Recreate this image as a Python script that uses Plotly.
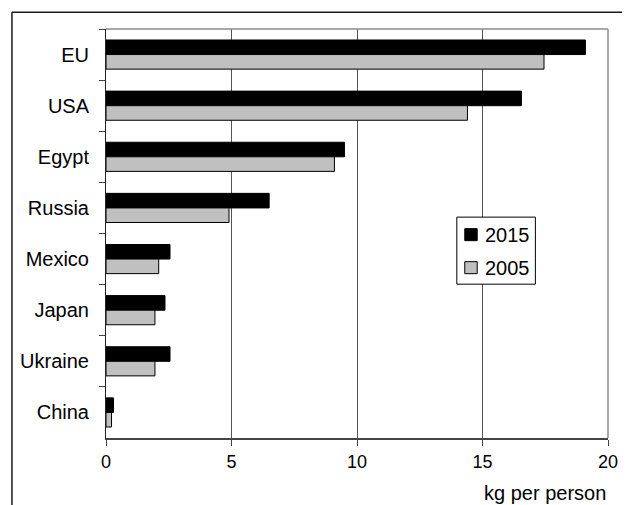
import plotly.graph_objects as go

categories = ["EU", "USA", "Egypt", "Russia", "Mexico", "Japan", "Ukraine", "China"]
values_2015 = [19.1, 16.55, 9.5, 6.5, 2.55, 2.35, 2.55, 0.3]
values_2005 = [17.45, 14.4, 9.1, 4.9, 2.1, 1.95, 1.95, 0.22]
series_names = ["2015", "2005"]
series_colors = ["#000000", "#c0c0c0"]
x_ticks = [0, 5, 10, 15, 20]
x_title = "kg per person"

FONT = "Liberation Sans, Arial, sans-serif"
FS = 20

# the page body adds an 8px margin; size the figure to fit the window
OFF = 8
W, H = 630 - OFF, 505 - OFF

# plot area in screen pixels
SX0, SX1, SY0, SY1 = 103.3, 608.0, 29.0, 437.7
L, R, T, B = SX0 - OFF, W - (SX1 - OFF), SY0 - OFF, H - (SY1 - OFF)
pw = W - L - R
ph = H - T - B

def px_x(sx):
    return (sx - OFF - L) / pw

def px_y(sy):
    return (H - B - (sy - OFF)) / ph

fig = go.Figure()
for name, vals, col in zip(series_names, [values_2015, values_2005], series_colors):
    fig.add_trace(go.Bar(
        y=categories, x=vals, name=name, orientation="h",
        marker=dict(color=col, line=dict(color="#000000", width=1)),
        showlegend=False,
    ))

shapes = [
    # plot area border (top/right grey)
    dict(type="line", xref="paper", yref="paper", x0=0, x1=1, y0=1, y1=1,
         line=dict(color="#8c8c8c", width=1.5)),
    dict(type="line", xref="paper", yref="paper", x0=1, x1=1, y0=0, y1=1,
         line=dict(color="#8c8c8c", width=1.5)),
    # outer chart frame (left and top visible)
    dict(type="line", xref="paper", yref="paper", x0=px_x(8.75), x1=px_x(8.75),
         y0=px_y(520), y1=px_y(12.3), line=dict(color="#1a1a1a", width=1.5)),
    dict(type="line", xref="paper", yref="paper", x0=px_x(8.75), x1=px_x(640),
         y0=px_y(12.3), y1=px_y(12.3), line=dict(color="#1a1a1a", width=1.5)),
    # legend box
    dict(type="rect", xref="paper", yref="paper",
         x0=px_x(456), x1=px_x(535), y0=px_y(284), y1=px_y(217),
         line=dict(color="#000000", width=1), fillcolor="white", layer="above"),
]

annotations = [dict(
    text=x_title, xref="paper", yref="paper", x=px_x(608), y=px_y(492.5),
    xanchor="right", yanchor="middle", showarrow=False,
    font=dict(family=FONT, size=FS),
)]

# legend entries
legend_rows = [234.5, 267.5]
for name, col, yc in zip(series_names, series_colors, legend_rows):
    shapes.append(dict(
        type="rect", xref="paper", yref="paper",
        x0=px_x(464), x1=px_x(476.5), y0=px_y(yc + 6), y1=px_y(yc - 6),
        line=dict(color="#000000", width=1), fillcolor=col, layer="above",
    ))
    annotations.append(dict(
        text=name, xref="paper", yref="paper", x=px_x(482), y=px_y(yc),
        xanchor="left", yanchor="middle", showarrow=False,
        font=dict(family=FONT, size=FS),
    ))

fig.update_layout(
    width=W, height=H,
    margin=dict(l=L, r=R, t=T, b=B, pad=0),
    paper_bgcolor="white", plot_bgcolor="white",
    font=dict(family=FONT, size=FS, color="#000000"),
    barmode="group", bargap=0.43, bargroupgap=0,
    showlegend=False,
    shapes=shapes,
    annotations=annotations,
)

fig.update_xaxes(
    range=[0, 20], tickvals=x_ticks, ticks="outside", ticklen=6,
    tickcolor="#444444", showgrid=True, gridcolor="#555555", gridwidth=1,
    showline=True, linecolor="#444444", linewidth=2, zeroline=False,
    ticklabelstandoff=0, tickfont=dict(family=FONT, size=18),
)
fig.update_yaxes(
    categoryorder="array", categoryarray=categories, autorange="reversed",
    ticks="outside", tickson="boundaries", ticklen=6, tickcolor="#444444",
    showline=True, linecolor="#222222", linewidth=1, showgrid=False,
    ticklabelstandoff=12,
)

fig.write_html("out.html")
